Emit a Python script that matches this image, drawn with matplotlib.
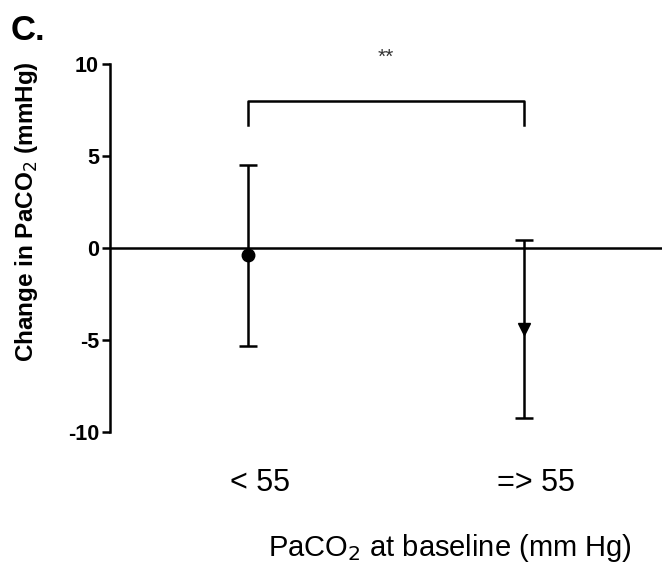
import matplotlib
matplotlib.use("Agg")
import matplotlib.pyplot as plt
import matplotlib.transforms as mtransforms

plt.rcParams["font.family"] = ["Liberation Sans", "DejaVu Sans"]

# data
groups = ["< 55", "=> 55"]
means = [-0.4, -4.4]
sd = [4.9, 4.85]
markers = ["o", "v"]
bracket_y = 8.0
bracket_drop = 1.3
star_text = "**"

fig = plt.figure(figsize=(6.62, 5.67), dpi=100)
ax = fig.add_axes([110 / 662, 1 - 432 / 567, 1 - 110 / 662, (432 - 64) / 567])

xpos = [1, 2]
for x, m, s, mk in zip(xpos, means, sd, markers):
    ax.errorbar(x, m, yerr=s, fmt=mk, color="black", ms=9, elinewidth=1.8,
                capsize=6.5, capthick=1.8, zorder=3)

ax.axhline(0, color="black", lw=1.8, zorder=2)

# significance bracket
ax.plot([xpos[0], xpos[0], xpos[1], xpos[1]],
        [bracket_y - bracket_drop, bracket_y, bracket_y, bracket_y - bracket_drop],
        color="black", lw=1.8, clip_on=False)
ax.text(sum(xpos) / 2, 10.35, star_text, ha="center", va="center", fontsize=15,
        color="#333333")

ax.set_xlim(0.5, 2.5)
ax.set_ylim(-10, 10)
ax.set_yticks([-10, -5, 0, 5, 10])
ax.set_yticklabels(["-10", "-5", "0", "5", "10"], fontsize=15.5, fontweight="bold")
ax.tick_params(axis="y", length=6, width=1.8, pad=2)
ax.tick_params(axis="x", length=0, pad=26)
ax.set_xticks(xpos)
ax.set_xticklabels(groups, fontsize=22)
offset = mtransforms.ScaledTranslation(12 / 100, 0, fig.dpi_scale_trans)
for lbl in ax.get_xticklabels():
    lbl.set_transform(lbl.get_transform() + offset)

for side in ["top", "right", "bottom"]:
    ax.spines[side].set_visible(False)
ax.spines["left"].set_linewidth(1.8)

fig.text(450 / 662, 1 - 548 / 567, "PaCO$_2$ at baseline (mm Hg)", ha="center",
         va="center", fontsize=21)
fig.text(27 / 662, 1 - 212 / 567, "Change in PaCO$_2$ (mmHg)", ha="center",
         va="center", rotation=90, fontsize=17.5, fontweight="bold")
fig.text(11 / 662, 1 - 30 / 567, "C.", ha="left", va="center", fontsize=25,
         fontweight="bold")

fig.savefig("out.png", dpi=100)
